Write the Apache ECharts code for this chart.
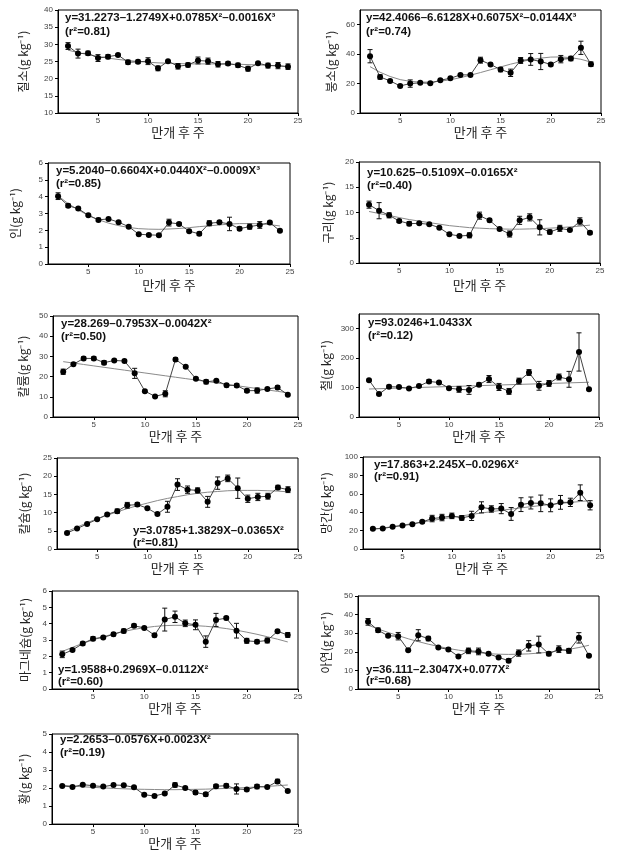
<!DOCTYPE html>
<html><head><meta charset="utf-8">
<script src="https://cdn.jsdelivr.net/npm/echarts@6/dist/echarts.min.js"></script>
<style>html,body{margin:0;padding:0;background:#fff}#c{width:622px;height:851px}</style>
</head><body><div id="c"></div>
<script>
// ---------- data ----------
const weeks = [2,3,4,5,6,7,8,9,10,11,12,13,14,15,16,17,18,19,20,21,22,23,24];
const xTicks = [5,10,15,20,25];
const xTitle = '만개 후 주';

const nitrogenMean = [29.5,27.3,27.4,26.0,26.4,26.9,24.8,24.9,25.1,23.0,25.1,23.6,24.0,25.3,25.1,24.2,24.4,23.9,22.9,24.5,23.8,23.8,23.5];
const nitrogenErr  = [1.0,1.3,0.6,1.0,0.6,0.3,0.6,0.5,1.0,0.7,0.2,0.8,0.6,1.0,0.9,0.8,0.5,0.6,0.7,0.3,0.7,0.9,0.8];
const nitrogenFit  = [28.3,27.6,27.0,26.5,26.0,25.6,25.3,25.0,24.8,24.6,24.5,24.4,24.3,24.3,24.3,24.3,24.2,24.2,24.1,24.0,23.9,23.7,23.5];
const nitrogenTicks = [10,15,20,25,30,35,40];

const boronMean = [38.6,24.5,21.8,18.4,20.0,20.5,20.2,22.3,23.6,25.9,25.9,35.9,33.0,29.5,27.3,35.7,36.4,35.0,33.0,36.6,37.0,44.3,33.2];
const boronErr  = [4.5,1.5,0.5,0.5,2.5,0.4,0.4,0.5,0.5,0.5,0.5,2.0,0.8,1.5,2.5,2.0,4.0,5.5,1.0,2.5,1.5,4.5,1.5];
const boronFit  = [31.5,27.7,24.8,22.7,21.5,21.0,21.0,21.6,22.6,24.0,25.7,27.5,29.4,31.3,33.2,34.8,36.2,37.3,38.0,38.1,37.6,36.5,34.6];
const boronTicks = [0,20,40,60];

const phosMean = [4.03,3.46,3.29,2.89,2.62,2.68,2.48,2.22,1.77,1.73,1.71,2.46,2.38,1.95,1.79,2.42,2.48,2.38,2.10,2.22,2.32,2.46,1.97];
const phosErr  = [0.2,0.1,0.08,0.05,0.1,0.05,0.05,0.05,0.05,0.05,0.08,0.2,0.08,0.05,0.1,0.15,0.08,0.4,0.1,0.15,0.2,0.08,0.05];
const phosFit  = [4.05,3.59,3.21,2.89,2.63,2.43,2.28,2.17,2.10,2.07,2.06,2.08,2.11,2.16,2.22,2.27,2.32,2.37,2.40,2.40,2.39,2.34,2.26];
const phosTicks = [0,1,2,3,4,5,6];

const copperMean = [11.55,10.36,9.44,8.32,7.79,7.85,7.66,7.0,5.68,5.35,5.48,9.37,8.45,6.73,5.74,8.45,9.04,7.06,6.14,6.86,6.53,8.25,6.0];
const copperErr  = [0.7,1.6,0.5,0.3,0.4,0.2,0.15,0.15,0.15,0.15,0.5,0.7,0.3,0.2,0.6,0.8,0.7,1.5,0.4,0.6,0.15,0.7,0.3];
const copperFit  = [10.2,9.8,9.4,9.0,8.6,8.3,8.0,7.7,7.4,7.2,7.0,6.9,6.8,6.75,6.7,6.7,6.75,6.8,6.9,7.0,7.15,7.3,7.5];
const copperTicks = [0,5,10,15,20];

const potassiumMean = [22.4,26.1,29.0,29.0,26.9,28.0,27.7,21.6,12.8,10.2,11.5,28.5,24.9,18.9,17.4,18.0,15.7,15.6,13.0,13.1,13.9,14.6,11.0];
const potassiumErr  = [1.3,0.5,0.8,0.8,1.0,0.5,0.7,2.5,0.5,0.4,1.5,0.8,0.5,0.5,1.0,0.4,0.8,0.8,0.8,1.3,0.5,0.8,0.4];
const potassiumFit  = [27.4,26.7,26.0,25.3,24.6,23.9,23.2,22.5,21.8,21.1,20.4,19.7,19.0,18.3,17.6,16.9,16.2,15.5,14.8,14.1,13.4,12.7,12.0];
const potassiumTicks = [0,10,20,30,40,50];

const ironMean = [125,78,103,102,97,105,121,117,98,94,92,110,129,102,87,122,151,106,114,136,128,221,94];
const ironErr  = [3,3,5,3,3,3,6,3,3,10,15,6,12,12,10,10,10,15,10,10,27,65,3];
const ironFit  = [95.1,96.2,97.2,98.2,99.3,100.3,101.4,102.4,103.5,104.5,105.5,106.6,107.6,108.7,109.7,110.8,111.8,112.8,113.9,114.9,116.0,117.0,118.1];
const ironTicks = [0,100,200,300];

const calciumMean = [4.4,5.6,6.9,8.15,9.5,10.4,12.0,12.2,11.2,9.6,11.6,17.7,16.3,16.1,12.95,18.1,19.4,16.7,13.8,14.3,14.5,16.9,16.3];
const calciumErr  = [0.2,0.2,0.2,0.2,0.3,0.6,0.8,0.5,0.2,0.2,1.5,1.6,1.0,0.7,1.5,1.7,0.9,2.8,1.0,1.0,0.8,0.6,0.8];
const calciumFit  = [4.8,6.0,7.2,8.3,9.3,10.2,11.1,11.9,12.6,13.3,13.9,14.4,14.9,15.3,15.6,15.8,16.0,16.1,16.1,16.1,16.0,15.9,15.7];
const calciumTicks = [0,5,10,15,20,25];

const manganeseMean = [21.9,22.3,24.1,25.5,27.0,29.5,33.1,34.2,36.0,33.8,36.0,45.3,43.5,43.9,38.1,48.2,50.0,49.6,47.5,50.7,50.7,61.2,47.5];
const manganeseErr  = [1,1,0.8,0.8,1,1.2,3.5,3.5,3,2.5,5,6,3.5,5.5,7,7.5,6.5,9,7,7.5,4.5,8.5,5];
const manganeseFit  = [21.5,22.8,24.3,25.9,27.6,29.3,31.0,32.7,34.4,36.0,37.6,39.1,40.6,42.0,43.4,44.7,46.0,47.2,48.4,49.5,50.6,51.6,52.6];
const manganeseTicks = [0,20,40,60,80,100];

const magnesiumMean = [2.12,2.39,2.78,3.08,3.16,3.35,3.55,3.87,3.74,3.29,4.25,4.42,4.02,3.93,2.90,4.23,4.34,3.57,2.95,2.90,2.97,3.53,3.31];
const magnesiumErr  = [0.2,0.06,0.1,0.12,0.06,0.1,0.12,0.1,0.06,0.1,0.7,0.35,0.2,0.3,0.35,0.4,0.1,0.45,0.15,0.1,0.15,0.07,0.15];
const magnesiumFit  = [2.3,2.55,2.8,3.0,3.2,3.37,3.52,3.65,3.75,3.83,3.88,3.9,3.9,3.88,3.84,3.78,3.7,3.6,3.48,3.35,3.2,3.05,2.88];
const magnesiumTicks = [0,1,2,3,4,5,6];

const zincMean = [36.1,31.6,28.6,28.4,20.9,28.9,27.1,22.3,21.3,17.5,20.5,20.2,18.9,17.0,15.2,19.3,23.2,23.9,18.9,21.4,20.5,27.5,17.9];
const zincErr  = [1.8,1.2,0.6,2.0,0.5,3.0,1.2,0.5,0.7,0.5,1.5,1.8,0.8,0.4,1.0,1.7,2.8,4.5,1.0,1.8,1.3,2.8,0.5];
const zincFit  = [34.3,32.3,30.4,28.7,27.0,25.5,24.1,22.9,21.8,20.9,20.1,19.5,19.0,18.7,18.6,18.7,18.9,19.3,19.8,20.5,21.3,22.3,23.5];
const zincTicks = [0,10,20,30,40,50];

const sulfurMean = [2.12,2.06,2.19,2.13,2.08,2.17,2.15,2.04,1.63,1.56,1.70,2.17,2.01,1.75,1.65,2.10,2.13,1.95,1.92,2.08,2.06,2.37,1.83];
const sulfurErr  = [0.03,0.03,0.03,0.03,0.03,0.03,0.05,0.05,0.03,0.03,0.04,0.12,0.05,0.1,0.1,0.1,0.1,0.28,0.08,0.12,0.04,0.12,0.05];
const sulfurFit  = [2.16,2.11,2.07,2.04,2.01,1.98,1.96,1.94,1.93,1.92,1.91,1.91,1.92,1.93,1.94,1.96,1.98,2.00,2.03,2.06,2.09,2.13,2.17];
const sulfurTicks = [0,1,2,3,4,5];

const yTitles = ['질소(g kg⁻¹)','붕소(g kg⁻¹)','인(g kg⁻¹)','구리(g kg⁻¹)','칼륨(g kg⁻¹)','철(g kg⁻¹)','칼슘(g kg⁻¹)','망간(g kg⁻¹)','마그네슘(g kg⁻¹)','아연(g kg⁻¹)','황(g kg⁻¹)'];
const equations = [
  'y=31.2273–1.2749X+0.0785X²–0.0016X³',
  'y=42.4066–6.6128X+0.6075X²–0.0144X³',
  'y=5.2040–0.6604X+0.0440X²–0.0009X³',
  'y=10.625–0.5109X–0.0165X²',
  'y=28.269–0.7953X–0.0042X²',
  'y=93.0246+1.0433X',
  'y=3.0785+1.3829X–0.0365X²',
  'y=17.863+2.245X–0.0296X²',
  'y=1.9588+0.2969X–0.0112X²',
  'y=36.111–2.3047X+0.077X²',
  'y=2.2653–0.0576X+0.0023X²'
];
const r2Labels = ['(r²=0.81)','(r²=0.74)','(r²=0.85)','(r²=0.40)','(r²=0.50)','(r²=0.12)','(r²=0.81)','(r²=0.91)','(r²=0.60)','(r²=0.68)','(r²=0.19)'];

const panelData = [
  {mean:nitrogenMean, err:nitrogenErr, fit:nitrogenFit, ticks:nitrogenTicks},
  {mean:boronMean, err:boronErr, fit:boronFit, ticks:boronTicks},
  {mean:phosMean, err:phosErr, fit:phosFit, ticks:phosTicks},
  {mean:copperMean, err:copperErr, fit:copperFit, ticks:copperTicks},
  {mean:potassiumMean, err:potassiumErr, fit:potassiumFit, ticks:potassiumTicks},
  {mean:ironMean, err:ironErr, fit:ironFit, ticks:ironTicks},
  {mean:calciumMean, err:calciumErr, fit:calciumFit, ticks:calciumTicks},
  {mean:manganeseMean, err:manganeseErr, fit:manganeseFit, ticks:manganeseTicks},
  {mean:magnesiumMean, err:magnesiumErr, fit:magnesiumFit, ticks:magnesiumTicks},
  {mean:zincMean, err:zincErr, fit:zincFit, ticks:zincTicks},
  {mean:sulfurMean, err:sulfurErr, fit:sulfurFit, ticks:sulfurTicks}
];
const yRanges = [[10,40],[0,70],[0,6],[0,20],[0,50],[0,350],[0,25],[0,100],[0,6],[0,50],[0,5]];

// ---------- layout ----------
const layout = [
  {l:58, t:10, w:240, h:103, yGap:29, xGap:12, ex:65, ey:18, ry:32},
  {l:360,t:10, w:241, h:103, yGap:23, xGap:11, ex:366, ey:18, ry:32},
  {l:48, t:163,w:242, h:101, yGap:27, xGap:15, ex:56, ey:171, ry:184},
  {l:359,t:162,w:241, h:101, yGap:25, xGap:16, ex:367, ey:173, ry:186},
  {l:53, t:316,w:245, h:101, yGap:24, xGap:11, ex:61, ey:324, ry:337},
  {l:359,t:314,w:240, h:103, yGap:27, xGap:11, ex:368, ey:323, ry:336},
  {l:57, t:458,w:241, h:91,  yGap:27, xGap:11, ex:133, ey:531, ry:543},
  {l:363,t:457,w:237, h:92,  yGap:31, xGap:11, ex:374, ey:465, ry:477},
  {l:52, t:591,w:246, h:98,  yGap:21, xGap:11, ex:58, ey:670, ry:682},
  {l:358,t:596,w:241, h:93,  yGap:26, xGap:11, ex:366, ey:670, ry:681},
  {l:52, t:734,w:246, h:92,  yGap:22, xGap:8,  ex:60, ey:740, ry:753}
];

const grids = [], xAxes = [], yAxes = [], series = [], graphics = [];
const labelFont = 'Liberation Sans';
const krFont = 'Noto Sans CJK KR';

panelData.forEach((p, i) => {
  const L = layout[i];
  grids.push({left:L.l, top:L.t, width:L.w, height:L.h, show:true, borderColor:'#000', borderWidth:1, backgroundColor:'transparent'});
  xAxes.push({
    type:'value', gridIndex:i, min:1, max:25,
    axisLine:{show:true, onZero:false, lineStyle:{color:'#000', width:1}},
    axisTick:{show:true, length:3, customValues:xTicks, lineStyle:{color:'#000'}},
    axisLabel:{customValues:xTicks, fontSize:8, color:'#444', margin:4, fontFamily:labelFont},
    splitLine:{show:false},
    name:xTitle, nameLocation:'middle', nameGap:L.xGap,
    nameTextStyle:{fontSize:13, color:'#222', fontFamily:krFont}
  });
  yAxes.push({
    type:'value', gridIndex:i, min:yRanges[i][0], max:yRanges[i][1],
    axisLine:{show:true, onZero:false, lineStyle:{color:'#000', width:1}},
    axisTick:{show:true, length:3, customValues:p.ticks, lineStyle:{color:'#000'}},
    axisLabel:{customValues:p.ticks, fontSize:8, color:'#444', margin:5, fontFamily:labelFont},
    splitLine:{show:false},
    name:yTitles[i], nameLocation:'middle', nameGap:L.yGap, nameRotate:90,
    nameTextStyle:{fontSize:12, color:'#222', fontFamily:krFont}
  });
  const fitData = weeks.map((w, j) => [w, p.fit[j]]);
  const meanData = weeks.map((w, j) => [w, p.mean[j]]);
  const errData = weeks.map((w, j) => [w, p.mean[j], p.err[j]]);
  series.push({
    type:'line', xAxisIndex:i, yAxisIndex:i, data:fitData, showSymbol:false, silent:true,
    lineStyle:{color:'#8a8a8a', width:1}, z:2
  });
  series.push({
    type:'custom', xAxisIndex:i, yAxisIndex:i, data:errData, silent:true, z:3,
    renderItem:function(params, api){
      const x = api.value(0), y = api.value(1), e = api.value(2);
      const top = api.coord([x, y + e]);
      const bot = api.coord([x, y - e]);
      const c = 2.5;
      const st = {stroke:'#111', lineWidth:1};
      return {type:'group', children:[
        {type:'line', shape:{x1:top[0], y1:top[1], x2:bot[0], y2:bot[1]}, style:st},
        {type:'line', shape:{x1:top[0]-c, y1:top[1], x2:top[0]+c, y2:top[1]}, style:st},
        {type:'line', shape:{x1:bot[0]-c, y1:bot[1], x2:bot[0]+c, y2:bot[1]}, style:st}
      ]};
    }
  });
  series.push({
    type:'line', xAxisIndex:i, yAxisIndex:i, data:meanData, symbol:'circle', symbolSize:6,
    itemStyle:{color:'#000'}, lineStyle:{color:'#444', width:1}, z:4
  });
  graphics.push({type:'text', x:L.ex, y:L.ey, style:{text:equations[i], font:'bold 11.5px "Liberation Sans"', fill:'#111', verticalAlign:'middle', textVerticalAlign:'middle'}});
  graphics.push({type:'text', x:L.ex, y:L.ry, style:{text:r2Labels[i], font:'bold 11.5px "Liberation Sans"', fill:'#111', verticalAlign:'middle', textVerticalAlign:'middle'}});
});

const chart = echarts.init(document.getElementById('c'), null, {renderer:'canvas'});
chart.setOption({
  animation:false,
  backgroundColor:'#fff',
  grid:grids, xAxis:xAxes, yAxis:yAxes, series:series, graphic:graphics
});
</script></body></html>
